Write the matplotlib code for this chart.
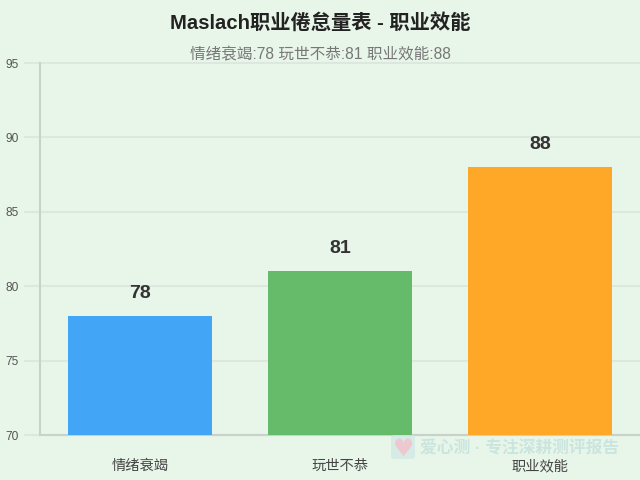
import matplotlib
matplotlib.use('Agg')
import matplotlib.pyplot as plt
from matplotlib.patches import FancyBboxPatch

plt.rcParams['font.family'] = ['Liberation Sans', 'Noto Sans CJK SC', 'DejaVu Sans']

categories = ['情绪衰竭', '玩世不恭', '职业效能']
scores = [78, 81, 88]
bar_colors = ['#42a5f5', '#66bb6a', '#ffa726']
y_ticks = [70, 75, 80, 85, 90, 95]

title = 'Maslach职业倦怠量表 - 职业效能'
subtitle = '情绪衰竭:78 玩世不恭:81 职业效能:88'
watermark = '爱心测 · 专注深耕测评报告'

BG = '#e8f5e9'
GRID = '#dce8de'
AXIS = '#c8d2ca'


def px_x(x):
    return x / 640


def px_y(y):
    return 1 - y / 480


def main():
    fig = plt.figure(figsize=(6.4, 4.8), dpi=100, facecolor=BG)
    ax = fig.add_axes([px_x(40), px_y(435), 600 / 640, 372 / 480], facecolor=BG)

    ax.bar(range(len(categories)), scores, width=0.72, color=bar_colors, zorder=3)
    ax.set_xlim(-0.5, 2.5)
    ax.set_ylim(70, 95)
    ax.set_yticks(y_ticks)
    ax.set_xticks(range(len(categories)))
    ax.set_xticklabels(categories, fontsize=10.3, color='#444444')
    ax.tick_params(axis='x', length=0, pad=17.5)
    ax.tick_params(axis='y', length=11.5, color=GRID, width=1.5, labelsize=8.6,
                   labelcolor='#555555', pad=3.6)
    ax.grid(axis='y', color=GRID, linewidth=1.5, zorder=0, clip_on=False)
    ax.set_axisbelow(True)

    for side in ['top', 'right']:
        ax.spines[side].set_visible(False)
    ax.spines['left'].set_color(AXIS)
    ax.spines['left'].set_linewidth(1.5)
    ax.spines['bottom'].set_color(AXIS)
    ax.spines['bottom'].set_linewidth(1.5)

    for i, v in enumerate(scores):
        ax.annotate(str(v), (i, v), xytext=(0, 16.5), textcoords='offset points',
                    ha='center', va='center', fontsize=14, fontweight='bold',
                    color='#333333', zorder=4)

    fig.text(0.5, px_y(23), title, ha='center', va='center', fontsize=14.6,
             fontweight='bold', color='#222222')
    fig.text(0.5, px_y(55), subtitle, ha='center', va='center', fontsize=11.25,
             color='#777777')

    # watermark
    badge = FancyBboxPatch((px_x(391), px_y(459)), 24 / 640, 24 / 480,
                           boxstyle='round,pad=0,rounding_size=0.006',
                           transform=fig.transFigure, facecolor='#cfe8e6',
                           edgecolor='none', alpha=0.7, zorder=5)
    fig.add_artist(badge)
    fig.text(px_x(403), px_y(449), '♥', ha='center', va='center', fontsize=17,
             color='#eec8d0', family=['DejaVu Sans'], zorder=6)
    fig.text(px_x(420), px_y(448), watermark, ha='left', va='center', fontsize=12.1,
             fontweight='bold', color='#c0e0dc', alpha=0.75, zorder=6)

    fig.savefig('out.png', dpi=100, facecolor=BG)


if __name__ == '__main__':
    main()
